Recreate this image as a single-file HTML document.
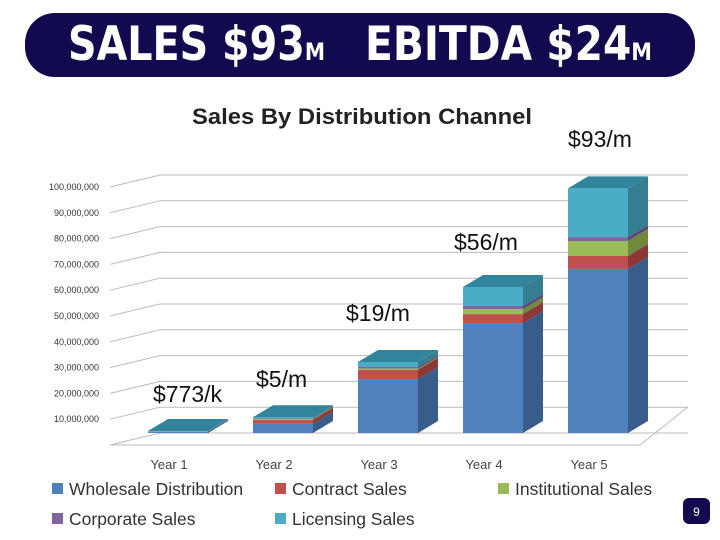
<!DOCTYPE html>
<html><head><meta charset="utf-8"><style>
body{margin:0;background:#fff;}
svg{display:block;font-family:"Liberation Sans",sans-serif;}
</style></head><body>
<svg id="c" width="720" height="540" viewBox="0 0 720 540">
<rect x="25" y="13" width="670" height="64" rx="30" fill="#120a4e"/>
<text x="68" y="60" fill="#fff" font-weight="bold" font-size="47" font-family="'Liberation Sans Narrow','DejaVu Sans Condensed','Liberation Sans',sans-serif" textLength="257" lengthAdjust="spacingAndGlyphs">SALES $93<tspan font-size="24">M</tspan></text>
<text x="365" y="60" fill="#fff" font-weight="bold" font-size="47" font-family="'Liberation Sans Narrow','DejaVu Sans Condensed','Liberation Sans',sans-serif" textLength="287" lengthAdjust="spacingAndGlyphs">EBITDA $24<tspan font-size="24">M</tspan></text>
<text x="192" y="124" font-size="22" font-weight="bold" fill="#222" textLength="340" lengthAdjust="spacingAndGlyphs">Sales By Distribution Channel</text>
<g id="grid"></g><g id="bars"></g><g id="ann"></g><g id="legend"></g>
<rect x="683" y="498" width="27" height="26" rx="6" fill="#120a4e"/>
<text x="696.5" y="516" fill="#fff" font-size="12" text-anchor="middle">9</text>
</svg>
<script>
const years=["Year  1","Year 2","Year 3","Year 4","Year 5"];
const wholesale=[0.5,3.5,20.5,41.8,62.4];
const contract=[0.1,1.5,3.5,3.4,4.9];
const institutional=[0.05,0.3,0.5,1.9,5.7];
const corporate=[0.02,0.2,0.6,1.2,1.5];
const licensing=[0.1,0.5,1.9,7.2,18.5];
const yTicks=[0,10,20,30,40,50,60,70,80,90,100];
const annotations=["$773/k","$5/m","$19/m","$56/m","$93/m"];
const NS="http://www.w3.org/2000/svg";
function mk(t,a,p){const e=document.createElementNS(NS,t);for(const k in a)e.setAttribute(k,a[k]);p.appendChild(e);return e;}
const base=433, pxPer=2.63;
function yv(v){return base-v*pxPer;}
function xc(i){return 178+i*105;}
const grid=document.getElementById('grid');
yTicks.forEach(t=>{
 const by=433-t*2.58, fy=by+12;
 const l=mk('line',{x1:110,y1:fy,x2:160,y2:by,stroke:'#bbb','stroke-width':1},grid);
 
 
 const h=mk('line',{x1:160,y1:by,x2:688,y2:by,stroke:'#bbb','stroke-width':1},grid);
 
 
 if(t>0){const tx=mk('text',{x:99,y:fy+3,'font-size':9,'text-anchor':'end',fill:'#333'},grid);
 tx.textContent=(t*1000000).toLocaleString('en-US');
 
 }
});
const fl=mk('polyline',{points:'110,445 640,445 688,407',fill:'none',stroke:'#bbb'},grid);


const series=[[wholesale,'#4f81bd','#385d8a'],[contract,'#c0504d','#8c3836'],[institutional,'#9bbb59','#71893f'],[corporate,'#8064a2','#5c4776'],[licensing,'#4bacc6','#357d91']];
const sNames=['wholesale','contract','institutional','corporate','licensing'];
const bars=document.getElementById('bars');
const W=60,dx=20,dy=-12;
years.forEach((yr,i)=>{
 const x0=xc(i)-W/2;let cum=0;
 series.forEach(([arr,c,sc],s)=>{
  const y1=yv(cum),y2=yv(cum+arr[i]);cum+=arr[i];
  const f=mk('rect',{x:x0,y:y2,width:W,height:Math.max(0,y1-y2),fill:c},bars);
  
  
  const sd=mk('polygon',{points:`${x0+W},${y1} ${x0+W+dx},${y1+dy} ${x0+W+dx},${y2+dy} ${x0+W},${y2}`,fill:sc},bars);
  
  
 });
 const t=yv(cum);
 const top=mk('polygon',{points:`${x0},${t} ${x0+dx},${t+dy} ${x0+W+dx},${t+dy} ${x0+W},${t}`,fill:'#31849b'},bars);
 
 
 const lb=mk('text',{x:xc(i)-9,y:469,'font-size':13,fill:'#444','text-anchor':'middle'},bars);
 lb.textContent=yr;
 
 
});
const annPos=[[153,402],[256,387],[346,321],[454,250],[568,147]];
const ann=document.getElementById('ann');
annotations.forEach((a,i)=>{
 const t=mk('text',{x:annPos[i][0],y:annPos[i][1],'font-size':23,fill:'#111'},ann);
 t.textContent=a;
 
 
});
const legItems=[['Wholesale Distribution','#4f81bd',52,489],['Contract Sales','#c0504d',275,489],['Institutional Sales','#9bbb59',498,489],['Corporate Sales','#8064a2',52,519],['Licensing Sales','#4bacc6',275,519]];
const lg=document.getElementById('legend');
legItems.forEach(([n,c,x,y])=>{
 const r=mk('rect',{x:x,y:y-6,width:11,height:11,fill:c},lg);
 
 
 const t=mk('text',{x:x+17,y:y+6,'font-size':17.5,fill:'#333'},lg);
 t.textContent=n;
 
 
});
</script>
</body></html>
